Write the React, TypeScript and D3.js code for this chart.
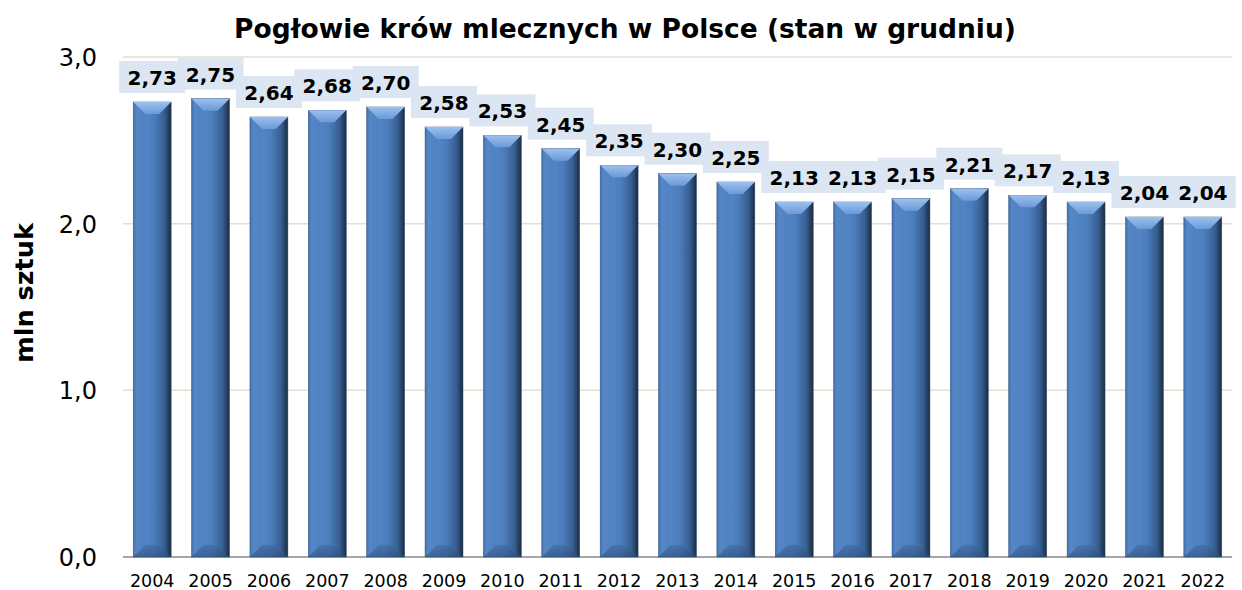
import React from "react";
import * as d3 from "d3";

const years = ["2004","2005","2006","2007","2008","2009","2010","2011","2012","2013","2014","2015","2016","2017","2018","2019","2020","2021","2022"];
const values = [2.73,2.75,2.64,2.68,2.70,2.58,2.53,2.45,2.35,2.30,2.25,2.13,2.13,2.15,2.21,2.17,2.13,2.04,2.04];
const yTicks = [0, 1, 2, 3];
const title = "Pogłowie krów mlecznych w Polsce (stan w grudniu)";
const yTitle = "mln sztuk";

const W = 1242, H = 590;
const left = 123, right = 1232, top = 57, bottom = 557;
const font = "Verdana, 'DejaVu Sans', sans-serif";

export default function App() {
  const x = d3.scaleBand<string>().domain(years).range([left, right]).paddingInner(0.35).paddingOuter(0.175);
  const y = d3.scaleLinear().domain([0, 3]).range([bottom, top]);
  const fmt = (v: number, d: number) => v.toFixed(d).replace(".", ",");
  const bw = x.bandwidth();
  const bev = 12;
  return (
    <svg width={W} height={H} style={{ position: "absolute", left: 0, top: 0, background: "#fff" }}>
      <defs>
        <linearGradient id="barG" x1="0" x2="1" y1="0" y2="0">
          <stop offset="0" stopColor="#3f6aa3" />
          <stop offset="0.08" stopColor="#5b8dcd" />
          <stop offset="0.55" stopColor="#4c7dbc" />
          <stop offset="0.82" stopColor="#375f91" />
          <stop offset="1" stopColor="#1a2b42" />
        </linearGradient>
        <linearGradient id="topG" x1="0" x2="0" y1="0" y2="1">
          <stop offset="0" stopColor="#9cc0ee" />
          <stop offset="1" stopColor="#6a9ad8" />
        </linearGradient>
        <linearGradient id="botG" x1="0" x2="0" y1="0" y2="1">
          <stop offset="0" stopColor="#3f6aa0" />
          <stop offset="1" stopColor="#2b4a72" />
        </linearGradient>
      </defs>
      <text x={625} y={38} textAnchor="middle" fontFamily={font} fontWeight="bold" fontSize={26.5}>{title}</text>
      {yTicks.slice(1).map(t => (
        <line key={t} x1={left} x2={right} y1={y(t)} y2={y(t)} stroke="#e3e0d2" strokeWidth={1.5} />
      ))}
      <line x1={left} x2={right} y1={bottom} y2={bottom} stroke="#a6a6a6" strokeWidth={2} />
      {yTicks.map(t => (
        <text key={t} x={97} y={y(t) + 9} textAnchor="end" fontFamily={font} fontSize={24}>{fmt(t, 1)}</text>
      ))}
      <text transform={`translate(33,${293}) rotate(-90)`} textAnchor="middle" fontFamily={font} fontWeight="bold" fontSize={25.5}>{yTitle}</text>
      {years.map((yr, i) => {
        const x0 = x(yr)!;
        const y0 = y(values[i]);
        const h = bottom - y0;
        return (
          <g key={yr}>
            <rect x={x0} y={y0} width={bw} height={h} fill="url(#barG)" stroke="#2f4f78" strokeWidth={0.5} />
            <polygon points={`${x0},${y0} ${x0 + bw},${y0} ${x0 + bw - bev},${y0 + bev} ${x0 + bev},${y0 + bev}`} fill="url(#topG)" />
            <polygon points={`${x0},${y0} ${x0 + bev},${y0 + bev} ${x0 + bev},${bottom - bev} ${x0},${bottom}`} fill="#4a7bb9" opacity={0.35} />
            <polygon points={`${x0},${bottom} ${x0 + bw},${bottom} ${x0 + bw - bev},${bottom - bev} ${x0 + bev},${bottom - bev}`} fill="url(#botG)" opacity={0.6} />
            <rect x={x0 + bw / 2 - 33} y={y0 - 41} width={66} height={32} fill="#dce6f2" />
            <text x={x0 + bw / 2} y={y0 - 17} textAnchor="middle" fontFamily={font} fontWeight="bold" fontSize={20}>{fmt(values[i], 2)}</text>
            <text x={x0 + bw / 2} y={587} textAnchor="middle" fontFamily={font} fontSize={17.5}>{yr}</text>
          </g>
        );
      })}
    </svg>
  );
}
